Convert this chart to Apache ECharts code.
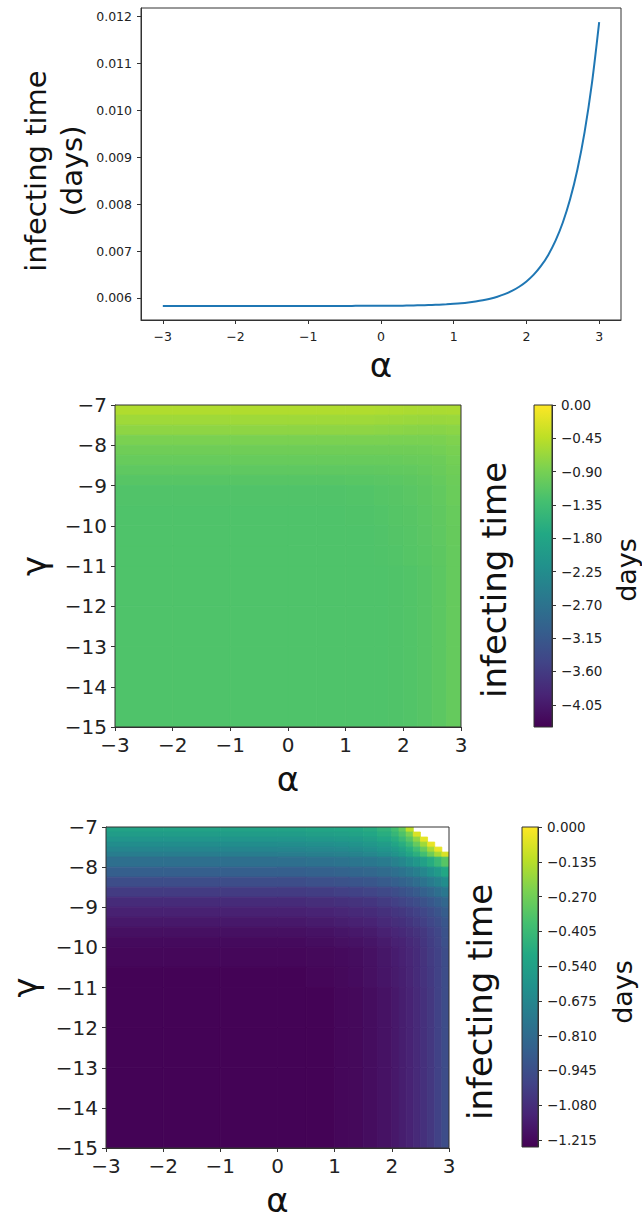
<!doctype html>
<html lang="en">
<head>
<meta charset="UTF-8">
<title>infecting time</title>
<style>
  html, body { margin: 0; padding: 0; background: #fff; }
  #main { width: 642px; height: 1222px; }
</style>
</head>
<body>
<div id="main"></div>
<script src="https://cdn.jsdelivr.net/npm/echarts@6.0.0/dist/echarts.min.js"></script>
<script>
// ---- top panel: infecting time vs alpha (step 0.1) ----
var alphaLine = [-3.0, -2.9, -2.8, -2.7, -2.6, -2.5, -2.4, -2.3, -2.2, -2.1,
                 -2.0, -1.9, -1.8, -1.7, -1.6, -1.5, -1.4, -1.3, -1.2, -1.1,
                 -1.0, -0.9, -0.8, -0.7, -0.6, -0.5, -0.4, -0.3, -0.2, -0.1,
                 0.0, 0.1, 0.2, 0.3, 0.4, 0.5, 0.6, 0.7, 0.8, 0.9,
                 1.0, 1.1, 1.2, 1.3, 1.4, 1.5, 1.6, 1.7, 1.8, 1.9,
                 2.0, 2.1, 2.2, 2.3, 2.4, 2.5, 2.6, 2.7, 2.8, 2.9, 3.0];
var timeLine = [0.005830, 0.005830, 0.005830, 0.005830, 0.005830, 0.005830, 0.005830, 0.005830, 0.005830, 0.005830,
                0.005830, 0.005830, 0.005830, 0.005830, 0.005830, 0.005830, 0.005830, 0.005830, 0.005830, 0.005830,
                0.005830, 0.005830, 0.005830, 0.005831, 0.005831, 0.005831, 0.005831, 0.005832, 0.005832, 0.005833,
                0.005833, 0.005834, 0.005835, 0.005836, 0.005838, 0.005843, 0.005847, 0.005851, 0.005857, 0.005865,
                0.005875, 0.005887, 0.005903, 0.005924, 0.005950, 0.005983, 0.006025, 0.006080, 0.006149, 0.006238,
                0.006351, 0.006496, 0.006682, 0.006918, 0.007221, 0.007608, 0.008102, 0.008734, 0.009541, 0.010573, 0.011880];
var alphaTicksTop = [-3, -2, -1, 0, 1, 2, 3];
var timeTicks = [0.006, 0.007, 0.008, 0.009, 0.010, 0.011, 0.012];

// ---- middle panel: heat map (alpha x gamma) ----
var alphaEdgesM = [-3, -2, -1, 0, 0.5, 1, 1.5, 1.75, 2, 2.25, 2.5, 2.75, 3];
var gammaEdgesM = [-7, -7.25, -7.5, -7.75, -8, -8.25, -8.5, -8.75, -9, -9.5, -10, -10.5, -11, -12, -13, -15];
var valuesM = [
  [-0.52, -0.52, -0.52, -0.52, -0.52, -0.52, -0.53, -0.54, -0.55, -0.56, -0.56, -0.55],
  [-0.63, -0.63, -0.63, -0.63, -0.63, -0.63, -0.64, -0.65, -0.66, -0.67, -0.67, -0.66],
  [-0.74, -0.74, -0.74, -0.74, -0.74, -0.74, -0.75, -0.76, -0.77, -0.78, -0.78, -0.76],
  [-0.87, -0.87, -0.87, -0.87, -0.87, -0.87, -0.87, -0.88, -0.88, -0.88, -0.87, -0.84],
  [-0.96, -0.96, -0.96, -0.96, -0.96, -0.96, -0.96, -0.96, -0.96, -0.95, -0.93, -0.89],
  [-1.02, -1.02, -1.02, -1.02, -1.02, -1.02, -1.02, -1.02, -1.01, -1.00, -0.98, -0.93],
  [-1.09, -1.09, -1.09, -1.09, -1.09, -1.09, -1.08, -1.07, -1.06, -1.04, -1.01, -0.96],
  [-1.15, -1.15, -1.15, -1.15, -1.15, -1.14, -1.13, -1.12, -1.10, -1.08, -1.04, -0.98],
  [-1.20, -1.20, -1.20, -1.20, -1.20, -1.19, -1.17, -1.15, -1.13, -1.10, -1.06, -1.00],
  [-1.22, -1.22, -1.22, -1.22, -1.22, -1.21, -1.19, -1.17, -1.15, -1.12, -1.08, -1.02],
  [-1.22, -1.22, -1.22, -1.22, -1.22, -1.22, -1.20, -1.18, -1.16, -1.13, -1.09, -1.03],
  [-1.22, -1.22, -1.22, -1.22, -1.22, -1.22, -1.21, -1.19, -1.17, -1.14, -1.10, -1.04],
  [-1.22, -1.22, -1.22, -1.22, -1.22, -1.22, -1.22, -1.21, -1.19, -1.16, -1.11, -1.04],
  [-1.22, -1.22, -1.22, -1.22, -1.22, -1.22, -1.22, -1.21, -1.19, -1.16, -1.11, -1.04],
  [-1.22, -1.22, -1.22, -1.22, -1.22, -1.22, -1.22, -1.21, -1.19, -1.16, -1.11, -1.04]
];
var cbMinM = -4.35, cbMaxM = 0;
var cbTicksM = [0, -0.45, -0.9, -1.35, -1.8, -2.25, -2.7, -3.15, -3.6, -4.05];

// ---- bottom panel: heat map (alpha x gamma), null = blank ----
var alphaEdgesB = [-3, -2, -1, 0, 0.5, 1, 1.25, 1.5, 1.75, 2, 2.125, 2.25, 2.375, 2.5, 2.625, 2.75, 2.875, 3];
var gammaEdgesB = [-7, -7.125, -7.25, -7.375, -7.5, -7.625, -7.75, -8, -8.25, -8.5, -8.75, -9, -9.25, -9.5, -9.75, -10, -10.5, -11, -12, -13, -15];
var valuesB = [
  [-0.53, -0.53, -0.53, -0.53, -0.52, -0.51, -0.50, -0.48, -0.44, -0.38, -0.30, -0.12, null, null, null, null, null],
  [-0.56, -0.56, -0.56, -0.56, -0.55, -0.54, -0.53, -0.51, -0.47, -0.42, -0.35, -0.25, -0.07, null, null, null, null],
  [-0.60, -0.60, -0.60, -0.60, -0.59, -0.58, -0.57, -0.55, -0.51, -0.47, -0.41, -0.33, -0.21, -0.05, null, null, null],
  [-0.64, -0.64, -0.64, -0.64, -0.63, -0.62, -0.61, -0.59, -0.56, -0.52, -0.47, -0.40, -0.30, -0.18, -0.04, null, null],
  [-0.68, -0.68, -0.68, -0.68, -0.67, -0.66, -0.65, -0.63, -0.60, -0.57, -0.53, -0.47, -0.39, -0.29, -0.17, -0.04, null],
  [-0.72, -0.72, -0.72, -0.72, -0.71, -0.70, -0.69, -0.67, -0.64, -0.61, -0.57, -0.52, -0.46, -0.38, -0.28, -0.17, -0.07],
  [-0.79, -0.79, -0.79, -0.79, -0.78, -0.77, -0.76, -0.75, -0.73, -0.70, -0.67, -0.63, -0.59, -0.54, -0.48, -0.41, -0.33],
  [-0.87, -0.87, -0.87, -0.87, -0.86, -0.85, -0.84, -0.83, -0.81, -0.79, -0.77, -0.74, -0.71, -0.67, -0.62, -0.57, -0.50],
  [-0.95, -0.95, -0.95, -0.95, -0.94, -0.93, -0.92, -0.91, -0.89, -0.87, -0.85, -0.83, -0.80, -0.77, -0.73, -0.69, -0.64],
  [-1.03, -1.03, -1.03, -1.03, -1.02, -1.01, -1.00, -0.99, -0.97, -0.95, -0.93, -0.91, -0.89, -0.86, -0.83, -0.79, -0.75],
  [-1.09, -1.09, -1.09, -1.09, -1.08, -1.07, -1.06, -1.05, -1.03, -1.01, -0.99, -0.97, -0.95, -0.93, -0.90, -0.87, -0.83],
  [-1.13, -1.13, -1.13, -1.13, -1.12, -1.11, -1.10, -1.09, -1.07, -1.05, -1.04, -1.02, -1.00, -0.98, -0.95, -0.92, -0.88],
  [-1.16, -1.16, -1.16, -1.16, -1.15, -1.14, -1.13, -1.12, -1.10, -1.08, -1.07, -1.05, -1.03, -1.01, -0.98, -0.95, -0.91],
  [-1.19, -1.19, -1.19, -1.19, -1.18, -1.17, -1.16, -1.15, -1.13, -1.11, -1.10, -1.08, -1.06, -1.04, -1.01, -0.98, -0.93],
  [-1.21, -1.21, -1.21, -1.21, -1.20, -1.19, -1.18, -1.17, -1.15, -1.13, -1.12, -1.10, -1.08, -1.05, -1.02, -0.99, -0.94],
  [-1.22, -1.22, -1.22, -1.22, -1.215, -1.21, -1.20, -1.185, -1.165, -1.145, -1.13, -1.11, -1.09, -1.06, -1.03, -1.00, -0.95],
  [-1.235, -1.235, -1.235, -1.235, -1.225, -1.215, -1.205, -1.19, -1.17, -1.15, -1.135, -1.115, -1.09, -1.065, -1.035, -1.00, -0.95],
  [-1.235, -1.235, -1.235, -1.235, -1.235, -1.22, -1.215, -1.20, -1.18, -1.16, -1.14, -1.12, -1.095, -1.07, -1.04, -1.00, -0.95],
  [-1.235, -1.235, -1.235, -1.235, -1.235, -1.22, -1.215, -1.20, -1.18, -1.16, -1.14, -1.12, -1.095, -1.07, -1.04, -1.00, -0.95],
  [-1.235, -1.235, -1.235, -1.235, -1.235, -1.22, -1.215, -1.20, -1.18, -1.16, -1.14, -1.12, -1.095, -1.07, -1.04, -1.00, -0.95]
];
var cbMinB = -1.242, cbMaxB = 0;
var cbTicksB = [0, -0.135, -0.27, -0.405, -0.54, -0.675, -0.81, -0.945, -1.08, -1.215];

var viridis = ['#440154', '#482475', '#414487', '#355f8d', '#2a788e', '#21918c',
               '#22a884', '#44bf70', '#7ad151', '#bddf26', '#fde725'];

var FONT = 'DejaVu Sans';
var INK = '#222';

function minus(s) { return String(s).replace('-', '\u2212'); }

// cells as [a0, a1, gLow, gHigh, value]
function buildCells(aEdges, gEdges, vals) {
  var out = [];
  for (var r = 0; r < vals.length; r++) {
    for (var c = 0; c < vals[r].length; c++) {
      if (vals[r][c] === null) continue;
      out.push([aEdges[c], aEdges[c + 1], gEdges[r + 1], gEdges[r], vals[r][c]]);
    }
  }
  return out;
}

function renderCell(params, api) {
  var p0 = api.coord([api.value(0), api.value(3)]);
  var p1 = api.coord([api.value(1), api.value(2)]);
  var col = api.visual('color');
  return {
    type: 'rect',
    shape: { x: p0[0], y: p0[1], width: p1[0] - p0[0], height: p1[1] - p0[1] },
    style: { fill: col, stroke: col, lineWidth: 0.8 }
  };
}

// top of the bar = last colour (yellow), bottom = first (purple)
var barStops = [];
for (var i = 0; i < viridis.length; i++) {
  barStops.push({ offset: i / (viridis.length - 1), color: viridis[viridis.length - 1 - i] });
}

function renderBar(params, api) {
  var p0 = api.coord([api.value(0), api.value(3)]);
  var p1 = api.coord([api.value(1), api.value(2)]);
  return {
    type: 'rect',
    shape: { x: p0[0], y: p0[1], width: p1[0] - p0[0], height: p1[1] - p0[1] },
    style: { fill: new echarts.graphic.LinearGradient(0, 0, 0, 1, barStops) }
  };
}

function frameGrid(left, top, width, height) {
  return { left: left, top: top, width: width, height: height, show: true,
           borderColor: '#333', borderWidth: 1, backgroundColor: 'transparent', z: 6 };
}

function heatX(idx) {
  return {
    gridIndex: idx, type: 'value', min: -3, max: 3, interval: 1,
    splitLine: { show: false },
    axisLine: { show: true, onZero: false, lineStyle: { color: '#333' } },
    axisTick: { length: 4, lineStyle: { color: '#333' } },
    axisLabel: { fontSize: 20, color: INK, fontFamily: FONT, margin: 8, formatter: minus },
    name: 'α', nameLocation: 'middle', nameGap: 35,
    nameTextStyle: { fontSize: 34, color: '#111', fontFamily: FONT }
  };
}

function heatY(idx) {
  return {
    gridIndex: idx, type: 'value', min: -15, max: -7, interval: 1,
    splitLine: { show: false },
    axisLine: { show: true, onZero: false, lineStyle: { color: '#333' } },
    axisTick: { length: 4, lineStyle: { color: '#333' } },
    axisLabel: { fontSize: 20, color: INK, fontFamily: FONT, margin: 8, formatter: minus },
    name: 'γ', nameLocation: 'middle', nameGap: 64,
    nameTextStyle: { fontSize: 34, color: '#111', fontFamily: FONT }
  };
}

function barX(idx) {
  return { gridIndex: idx, type: 'value', min: 0, max: 1, show: false };
}

function barY(idx, mn, mx, ticks, digits) {
  return {
    gridIndex: idx, type: 'value', min: mn, max: mx, position: 'right',
    splitLine: { show: false },
    axisLine: { show: true, onZero: false, lineStyle: { color: '#333' } },
    axisTick: { customValues: ticks, length: 4, lineStyle: { color: '#333' } },
    axisLabel: {
      customValues: ticks, fontSize: 13.5, color: INK, fontFamily: FONT, margin: 9,
      formatter: function (v) { return minus(Number(v).toFixed(digits)); }
    }
  };
}

var chart = echarts.init(document.getElementById('main'), null, { renderer: 'svg' });

chart.setOption({
  backgroundColor: '#fff',
  animation: false,
  grid: [
    frameGrid(141, 8, 480, 312),
    frameGrid(115, 405, 346, 322),
    frameGrid(534, 405, 18, 322),
    frameGrid(104, 827, 345, 321),
    frameGrid(522, 827, 16, 320)
  ],
  xAxis: [
    {
      gridIndex: 0, type: 'value', min: -3.3, max: 3.3,
      splitLine: { show: false },
      axisLine: { show: true, onZero: false, lineStyle: { color: '#333' } },
      axisTick: { customValues: alphaTicksTop, length: 4, lineStyle: { color: '#333' } },
      axisLabel: { customValues: alphaTicksTop, fontSize: 12.5, color: INK, fontFamily: FONT,
                   margin: 10, formatter: minus },
      name: 'α', nameLocation: 'middle', nameGap: 28,
      nameTextStyle: { fontSize: 34, color: '#111', fontFamily: FONT }
    },
    heatX(1), barX(2), heatX(3), barX(4)
  ],
  yAxis: [
    {
      gridIndex: 0, type: 'value', min: 0.00553, max: 0.01218,
      splitLine: { show: false },
      axisLine: { show: true, onZero: false, lineStyle: { color: '#333' } },
      axisTick: { customValues: timeTicks, length: 4, lineStyle: { color: '#333' } },
      axisLabel: { customValues: timeTicks, fontSize: 12.5, color: INK, fontFamily: FONT, margin: 9,
                   formatter: function (v) { return Number(v).toFixed(3); } }
    },
    heatY(1),
    barY(2, cbMinM, cbMaxM, cbTicksM, 2),
    heatY(3),
    barY(4, cbMinB, cbMaxB, cbTicksB, 3)
  ],
  visualMap: [
    { type: 'continuous', show: false, seriesIndex: 1, dimension: 4,
      min: cbMinM, max: cbMaxM, inRange: { color: viridis } },
    { type: 'continuous', show: false, seriesIndex: 3, dimension: 4,
      min: cbMinB, max: cbMaxB, inRange: { color: viridis } }
  ],
  series: [
    {
      type: 'line', xAxisIndex: 0, yAxisIndex: 0,
      data: alphaLine.map(function (a, i) { return [a, timeLine[i]]; }),
      smooth: 0.3, showSymbol: false,
      lineStyle: { color: '#1f77b4', width: 2 }
    },
    {
      type: 'custom', xAxisIndex: 1, yAxisIndex: 1, clip: true,
      data: buildCells(alphaEdgesM, gammaEdgesM, valuesM),
      encode: { x: [0, 1], y: [2, 3] }, renderItem: renderCell
    },
    {
      type: 'custom', xAxisIndex: 2, yAxisIndex: 2, clip: true,
      data: [[0, 1, cbMinM, cbMaxM]], encode: { x: [0, 1], y: [2, 3] }, renderItem: renderBar
    },
    {
      type: 'custom', xAxisIndex: 3, yAxisIndex: 3, clip: true,
      data: buildCells(alphaEdgesB, gammaEdgesB, valuesB),
      encode: { x: [0, 1], y: [2, 3] }, renderItem: renderCell
    },
    {
      type: 'custom', xAxisIndex: 4, yAxisIndex: 4, clip: true,
      data: [[0, 1, cbMinB, cbMaxB]], encode: { x: [0, 1], y: [2, 3] }, renderItem: renderBar
    }
  ],
  graphic: [
    { type: 'text', x: 54, y: 171, rotation: Math.PI / 2,
      style: { text: 'infecting time\n(days)', font: '29px "DejaVu Sans"', fill: '#111',
               align: 'center', verticalAlign: 'middle', textAlign: 'center', textVerticalAlign: 'middle',
               lineHeight: 36 } },
    { type: 'text', x: 494, y: 580, rotation: Math.PI / 2,
      style: { text: 'infecting time', font: '34px "DejaVu Sans"', fill: '#111',
               align: 'center', verticalAlign: 'middle', textAlign: 'center', textVerticalAlign: 'middle' } },
    { type: 'text', x: 626, y: 570, rotation: Math.PI / 2,
      style: { text: 'days', font: '27px "DejaVu Sans"', fill: '#111',
               align: 'center', verticalAlign: 'middle', textAlign: 'center', textVerticalAlign: 'middle' } },
    { type: 'text', x: 480, y: 1002, rotation: Math.PI / 2,
      style: { text: 'infecting time', font: '34px "DejaVu Sans"', fill: '#111',
               align: 'center', verticalAlign: 'middle', textAlign: 'center', textVerticalAlign: 'middle' } },
    { type: 'text', x: 622, y: 992, rotation: Math.PI / 2,
      style: { text: 'days', font: '27px "DejaVu Sans"', fill: '#111',
               align: 'center', verticalAlign: 'middle', textAlign: 'center', textVerticalAlign: 'middle' } }
  ]
});
</script>
</body>
</html>
